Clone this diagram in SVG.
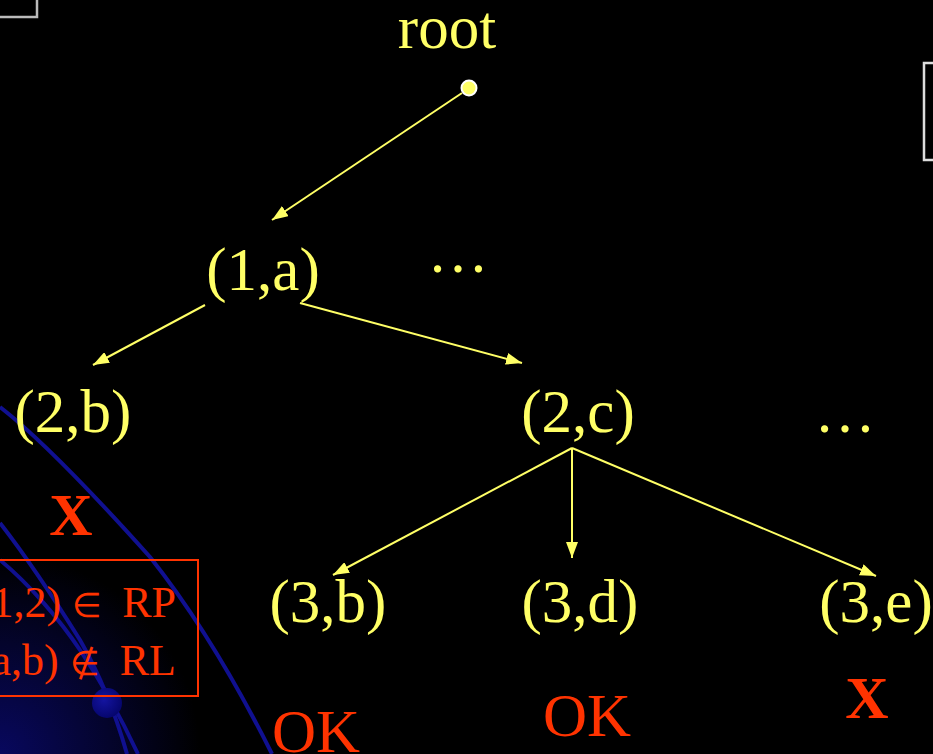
<svg xmlns="http://www.w3.org/2000/svg" width="933" height="754" viewBox="0 0 933 754">
<defs>
<style>
.lbl{font-family:"Liberation Serif","Times New Roman",serif;font-size:61px;fill:#FFFF66;text-anchor:middle}
.red{font-family:"Liberation Serif","Times New Roman",serif;fill:#FF3300}
.x{font-size:60px;font-weight:bold;text-anchor:middle}
.ok{font-size:61px;text-anchor:middle}
.cond{font-size:44px;text-anchor:end}
.sym{font-size:34px}
.edge{stroke:#FFFF66;stroke-width:2;fill:none;marker-end:url(#ah)}
.orb{stroke:#101090;stroke-width:4;fill:none}
</style>
<marker id="ah" viewBox="0 0 16 12" refX="16" refY="6" markerWidth="16" markerHeight="12" markerUnits="userSpaceOnUse" orient="auto">
<path d="M0,0 L16,6 L0,12 z" fill="#FFFF66"/>
</marker>
<radialGradient id="glow" cx="0" cy="754" r="200" gradientUnits="userSpaceOnUse">
<stop offset="0" stop-color="#08085e"/>
<stop offset="0.55" stop-color="#04042c"/>
<stop offset="1" stop-color="#000000"/>
</radialGradient>
<radialGradient id="dot" cx="0.4" cy="0.4" r="0.6">
<stop offset="0" stop-color="#1414a0"/>
<stop offset="1" stop-color="#06066e"/>
</radialGradient>
</defs>
<rect width="933" height="754" fill="#000000"/>
<g id="background">
<rect x="0" y="554" width="200" height="200" fill="url(#glow)"/>
<path class="orb" d="M0,407 C40,438 90,490 150,557 C200,620 240,690 272,754"/>
<path class="orb" d="M0,523 C25,555 55,600 80,640 C100,675 115,712 127,754"/>
<path class="orb" d="M0,560 C30,585 60,620 80,650 C100,680 122,720 138,754"/>
<circle cx="107" cy="703" r="15" fill="url(#dot)"/>
<rect x="-10" y="-10" width="47" height="27" fill="none" stroke="#BBBBBB" stroke-width="2.5"/>
<rect x="924" y="63" width="30" height="97" fill="none" stroke="#DDDDDD" stroke-width="2.5"/>
</g>
<g id="connectors">
<line class="edge" x1="462" y1="93" x2="272" y2="220"/>
<line class="edge" x1="205" y1="305" x2="93" y2="365"/>
<line class="edge" x1="300" y1="303" x2="522" y2="363"/>
<line class="edge" x1="572" y1="448" x2="333" y2="575"/>
<line class="edge" x1="572" y1="448" x2="572" y2="558"/>
<line class="edge" x1="572" y1="448" x2="876" y2="576"/>
</g>
<g id="root">
<text class="lbl" x="447" y="48">root</text>
<circle cx="469" cy="88" r="7.5" fill="#FFFF66" stroke="#FFFFFF" stroke-width="2"/>
</g>
<g id="n1a"><text class="lbl" x="263" y="290">(1,a)</text></g>
<g id="dots1"><text class="lbl" x="458" y="272">…</text></g>
<g id="n2b"><text class="lbl" x="73" y="432">(2,b)</text></g>
<g id="n2c"><text class="lbl" x="578" y="432">(2,c)</text></g>
<g id="dots2"><text class="lbl" x="845" y="432">…</text></g>
<g id="n3b"><text class="lbl" x="328" y="622">(3,b)</text></g>
<g id="n3d"><text class="lbl" x="580" y="622">(3,d)</text></g>
<g id="n3e"><text class="lbl" x="876" y="622">(3,e)</text></g>
<g id="x2b"><text class="red x" x="71" y="535">X</text></g>
<g id="cond">
<rect x="-10" y="560" width="208" height="136" fill="none" stroke="#FF3300" stroke-width="2"/>
<text class="red cond" x="176" y="617">(1,2) <tspan class="sym">∈</tspan><tspan dx="9"> RP</tspan></text>
<text class="red cond" x="176" y="675">(a,b) <tspan class="sym">∉</tspan><tspan dx="9"> RL</tspan></text>
</g>
<g id="ok3b"><text class="red ok" x="316" y="752">OK</text></g>
<g id="ok3d"><text class="red ok" x="587" y="736">OK</text></g>
<g id="x3e"><text class="red x" x="867" y="718">X</text></g>
</svg>
